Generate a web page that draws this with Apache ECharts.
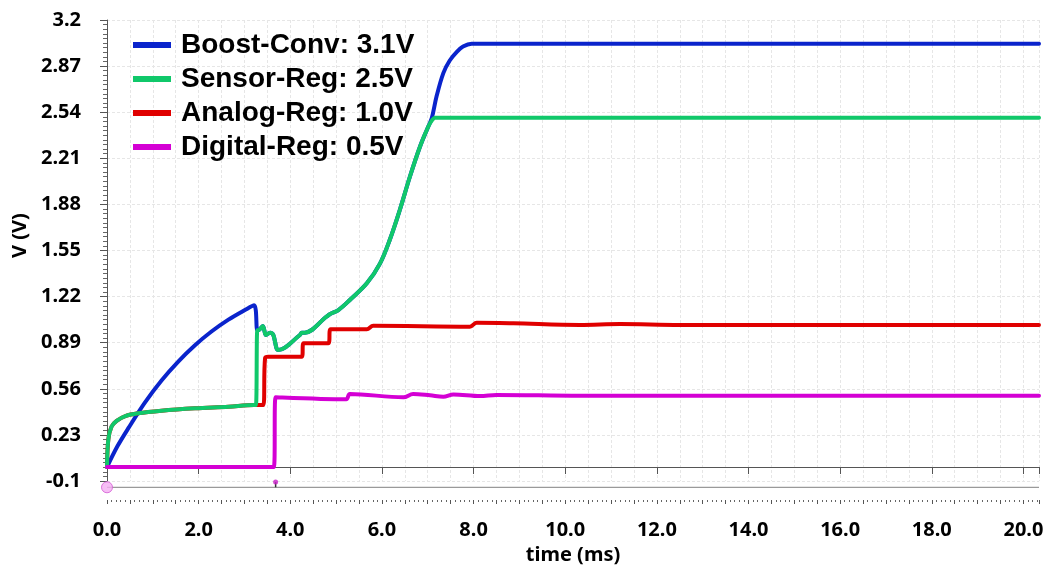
<!DOCTYPE html>
<html>
<head>
<meta charset="utf-8">
<script src="https://cdn.jsdelivr.net/npm/echarts@6/dist/echarts.min.js"></script>
<style>
  html, body { margin: 0; padding: 0; background: #fff; }
  #chart { width: 1050px; height: 566px; }
</style>
</head>
<body>
<div id="chart"></div>
<script>
// Supply rails during start-up: [time (ms), voltage (V)]
const seriesNames = ['Boost-Conv: 3.1V', 'Sensor-Reg: 2.5V', 'Analog-Reg: 1.0V', 'Digital-Reg: 0.5V'];

const boostConv = [
  [0, 0.0], [0.23, 0.15], [0.47, 0.28], [0.83, 0.463], [1.19, 0.62], [1.56, 0.757],
  [1.92, 0.872], [2.28, 0.97], [2.65, 1.055], [3.01, 1.124], [3.21, 1.158], [3.28, 0.98],
  [3.31, 0.98], [3.40, 1.01], [3.47, 0.945], [3.56, 0.962], [3.63, 0.945], [3.70, 0.85],
  [3.74, 0.838], [4.21, 0.945], [4.25, 0.962], [4.32, 0.962], [4.79, 1.076], [4.87, 1.095],
  [5.05, 1.124], [5.30, 1.196], [5.67, 1.315], [5.96, 1.458], [6.17, 1.625], [6.39, 1.84],
  [6.61, 2.078], [6.83, 2.293], [7.01, 2.436], [7.09, 2.50], [7.19, 2.65], [7.34, 2.82],
  [7.48, 2.91], [7.63, 2.97], [7.77, 3.01], [7.96, 3.03], [20.34, 3.03]
];

const sensorReg = [
  [0, 0.0], [0.03, 0.2], [0.1, 0.29], [0.21, 0.33], [0.4, 0.365], [0.68, 0.385],
  [1.19, 0.403], [1.92, 0.42], [2.65, 0.432], [3.21, 0.444], [3.25, 0.444], [3.28, 0.98],
  [3.31, 0.98], [3.40, 1.01], [3.47, 0.945], [3.56, 0.962], [3.63, 0.945], [3.70, 0.85],
  [3.74, 0.838], [4.21, 0.945], [4.25, 0.962], [4.32, 0.962], [4.79, 1.076], [4.87, 1.095],
  [5.05, 1.124], [5.30, 1.196], [5.67, 1.315], [5.96, 1.458], [6.17, 1.625], [6.39, 1.84],
  [6.61, 2.078], [6.83, 2.293], [7.01, 2.436], [7.10, 2.485], [7.16, 2.5], [20.34, 2.5]
];

const analogReg = [
  [0, 0.0], [0.03, 0.2], [0.1, 0.29], [0.21, 0.33], [0.4, 0.365], [0.68, 0.385],
  [1.19, 0.403], [1.92, 0.42], [2.65, 0.432], [3.21, 0.444], [3.41, 0.444], [3.45, 0.78],
  [3.52, 0.79], [4.25, 0.79], [4.29, 0.886], [4.83, 0.886], [4.88, 0.986], [5.67, 0.986],
  [5.81, 1.012], [7.92, 1.005], [8.07, 1.033], [8.87, 1.029], [10.32, 1.017], [11.2, 1.024],
  [12.5, 1.017], [20.34, 1.017]
];

const digitalReg = [
  [0, 0.0], [3.64, 0.0], [3.68, 0.5], [5.22, 0.485], [5.30, 0.523], [6.47, 0.499],
  [6.68, 0.523], [7.05, 0.513], [7.34, 0.503], [7.56, 0.52], [8.14, 0.508], [8.50, 0.516],
  [10.32, 0.51], [20.34, 0.51]
];

// Axis ranges and tick steps
const timeRange = [0, 20.34];
const timeLabelStep = 2;
const timeGridStep = 0.5;
const voltRange = [-0.1, 3.2];
const voltStep = 0.33;

// Cursor track under the plot: start cursor and the digital-rail event pin
const trackLevel = -0.145;
const cursorTime = 0;
const pinTime = 3.68;
const pinTop = -0.108;

const colors = {
  boost: '#0a24cc',
  sensor: '#10c86a',
  analog: '#e00000',
  digital: '#d400d4'
};

const labelFont = 'Noto Sans, Open Sans, sans-serif';
const gridLine = { show: true, lineStyle: { color: '#e6e6e6', width: 1, type: [3, 2] } };

function rail(name, data, color) {
  return {
    name, type: 'line', data, xAxisIndex: 0, yAxisIndex: 0,
    showSymbol: false, symbol: 'none', smooth: 0.35,
    lineStyle: { color, width: 4, join: 'round', cap: 'round' },
    itemStyle: { color },
    emphasis: { disabled: true }
  };
}

const chart = echarts.init(document.getElementById('chart'), null, { renderer: 'canvas' });

chart.setOption({
  animation: false,
  backgroundColor: '#ffffff',
  grid: { left: 107, right: 11, top: 20, bottom: 85, containLabel: false, outerBoundsMode: 'none' },
  legend: {
    orient: 'vertical',
    left: 133,
    top: 31,
    padding: 0,
    itemGap: 6,
    itemWidth: 38,
    itemHeight: 6,
    icon: 'rect',
    selectedMode: false,
    data: seriesNames,
    textStyle: {
      fontFamily: 'Liberation Sans, Arial, sans-serif',
      fontWeight: 'bold',
      fontSize: 28,
      color: '#000',
      padding: [0, 0, 0, 5]
    }
  },
  xAxis: [
    {
      type: 'value',
      min: timeRange[0], max: timeRange[1], interval: timeLabelStep,
      position: 'bottom', offset: 19,
      name: 'time (ms)', nameLocation: 'middle', nameGap: 41,
      nameTextStyle: { fontFamily: labelFont, fontWeight: 'bold', fontSize: 20, color: '#000' },
      axisLine: { show: true, lineStyle: { color: '#555', width: 1 } },
      axisTick: { show: true, inside: false, length: 7, lineStyle: { color: '#555' } },
      axisLabel: {
        margin: 20,
        fontFamily: labelFont, fontWeight: 'bold', fontSize: 20, color: '#000',
        formatter: v => {
          const k = v / timeLabelStep;
          return Math.abs(k - Math.round(k)) < 1e-6 ? v.toFixed(1) : '';
        }
      },
      splitLine: { show: false }
    },
    {
      type: 'value',
      min: timeRange[0], max: timeRange[1], interval: timeGridStep,
      position: 'bottom', offset: 19,
      axisLine: { show: false },
      axisTick: { show: true, inside: false, length: 4, lineStyle: { color: '#555' } },
      minorTick: { show: true, splitNumber: 5, length: 2, lineStyle: { color: '#666' } },
      axisLabel: { show: false },
      splitLine: gridLine
    }
  ],
  yAxis: {
    type: 'value',
    min: voltRange[0], max: voltRange[1], interval: voltStep,
    position: 'left', offset: 11,
    name: 'V (V)', nameLocation: 'middle', nameGap: 66,
    nameTextStyle: {
      fontFamily: labelFont, fontWeight: 'bold', fontSize: 20, color: '#000',
      padding: [0, 0, 0, 30]
    },
    axisLine: { show: true, lineStyle: { color: '#555', width: 1 } },
    axisTick: { show: true, inside: false, length: 7, lineStyle: { color: '#555' } },
    minorTick: { show: true, splitNumber: 10, length: 4, lineStyle: { color: '#666' } },
    axisLabel: {
      margin: 15,
      fontFamily: labelFont, fontWeight: 'bold', fontSize: 20, color: '#000',
      formatter: v => String(Number(v.toFixed(2)))
    },
    splitLine: gridLine
  },
  series: [
    // boost drawn first so the regulators cover it where they coincide
    rail(seriesNames[0], boostConv, colors.boost),
    rail(seriesNames[2], analogReg, colors.analog),
    rail(seriesNames[1], sensorReg, colors.sensor),
    rail(seriesNames[3], digitalReg, colors.digital),
    {
      type: 'line', silent: true, clip: false, showSymbol: false, symbol: 'none', z: 1,
      data: [[cursorTime, trackLevel], [timeRange[1], trackLevel]],
      lineStyle: { color: '#9a9a9a', width: 1.2 }
    },
    {
      type: 'line', silent: true, clip: false, showSymbol: false, symbol: 'none', z: 3,
      data: [[pinTime, pinTop], [pinTime, trackLevel]],
      lineStyle: { color: '#333', width: 1.5 }
    },
    {
      type: 'scatter', silent: true, clip: false, z: 4,
      data: [[pinTime, pinTop]], symbol: 'circle', symbolSize: 5,
      itemStyle: { color: '#c81ec8' }
    },
    {
      type: 'scatter', silent: true, clip: false, z: 4,
      data: [[cursorTime, trackLevel]], symbol: 'circle', symbolSize: 11,
      itemStyle: { color: '#f4aef2', borderColor: '#d35ad3', borderWidth: 1 }
    }
  ]
});
</script>
</body>
</html>
